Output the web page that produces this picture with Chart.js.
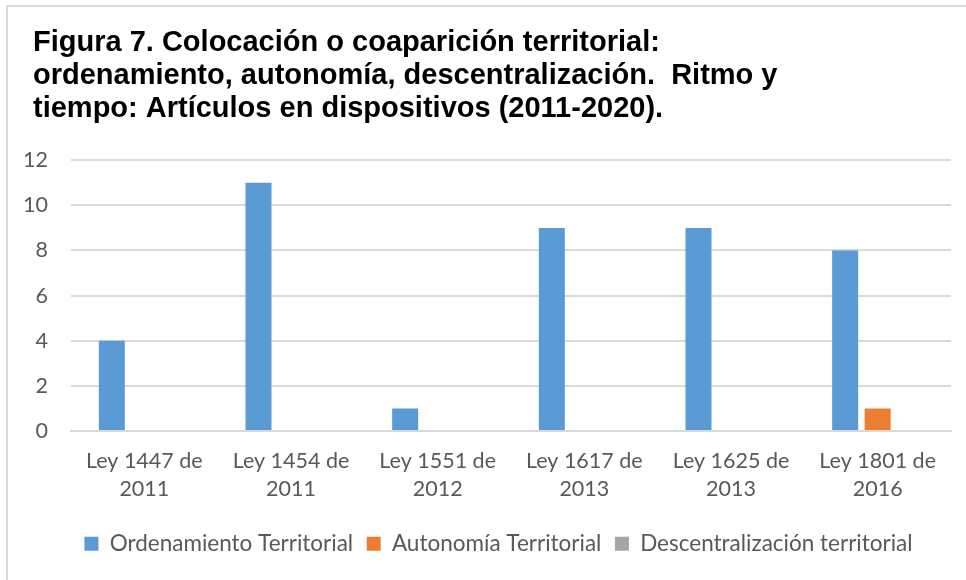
<!DOCTYPE html>
<html>
<head>
<meta charset="utf-8">
<script src="https://cdn.jsdelivr.net/npm/chart.js@4.4.1/dist/chart.umd.min.js"></script>
<style>
  html, body { margin: 0; padding: 0; background: #fff; }
  #wrap { position: relative; width: 966px; height: 580px; overflow: hidden; }
  #frame { position: absolute; left: 6px; top: 5px; width: 980px; height: 600px; border: 2px solid #d9d9d9; box-sizing: border-box; }
  #wrap canvas { position: absolute; left: 0; top: 0; }
</style>
</head>
<body>
<div id="wrap">
  <div id="frame"></div>
  <canvas id="barChart" width="966" height="580"></canvas>
</div>
<script>
const categories = [
    ['Ley 1447 de', '2011'],
    ['Ley 1454 de', '2011'],
    ['Ley 1551 de', '2012'],
    ['Ley 1617 de', '2013'],
    ['Ley 1625 de', '2013'],
    ['Ley 1801 de', '2016']
];
const ordenamiento = [4, 11, 1, 9, 9, 8];
const autonomia = [0, 0, 0, 0, 0, 1];
const descentralizacion = [0, 0, 0, 0, 0, 0];
const yTicks = [0, 2, 4, 6, 8, 10, 12];
const titleLines = [
    'Figura 7. Colocación o coaparición territorial:',
    'ordenamiento, autonomía, descentralización.  Ritmo y',
    'tiempo: Artículos en dispositivos (2011-2020).'
];

const textColor = '#595959';
const gridColor = '#d9d9d9';
const bodyFont = 'Lato, "Open Sans", sans-serif';

// title starts a bit right of the y tick labels, legend sits a bit right of centre
const boxShift = {
    id: 'boxShift',
    afterLayout(chart) {
        if (chart.titleBlock) {
            chart.titleBlock.left = 33;
        }
        if (chart.legend) {
            chart.legend.left += 14;
            chart.legend.right += 14;
        }
    }
};

const ctx = document.getElementById('barChart').getContext('2d');
new Chart(ctx, {
    type: 'bar',
    data: {
        labels: categories,
        datasets: [{
            label: 'Ordenamiento Territorial',
            data: ordenamiento,
            backgroundColor: '#5b9bd5'
        }, {
            label: 'Autonomía Territorial',
            data: autonomia,
            backgroundColor: '#ed7d31'
        }, {
            label: 'Descentralización territorial',
            data: descentralizacion,
            backgroundColor: '#a5a5a5'
        }]
    },
    options: {
        responsive: false,
        animation: false,
        categoryPercentage: 0.665,
        barPercentage: 0.8,
        layout: {
            padding: { left: 18, right: 15, top: 26, bottom: 15 }
        },
        plugins: {
            title: {
                display: true,
                text: titleLines,
                align: 'start',
                color: '#000',
                font: { family: '"Liberation Sans", Arial, sans-serif', size: 29, weight: 'bold', lineHeight: 1.14 },
                padding: { top: 0, bottom: 35 }
            },
            legend: {
                position: 'bottom',
                labels: {
                    color: textColor,
                    font: { family: bodyFont, size: 22.5 },
                    boxWidth: 14,
                    boxHeight: 14,
                    padding: 13.5
                }
            },
            tooltip: { enabled: false }
        },
        scales: {
            x: {
                grid: { display: false, drawTicks: false },
                border: { color: gridColor, width: 2 },
                ticks: {
                    color: textColor,
                    font: { family: bodyFont, size: 21.5, lineHeight: 1.3 },
                    padding: 16,
                    maxRotation: 0,
                    autoSkip: false
                }
            },
            y: {
                min: 0,
                max: 12,
                afterBuildTicks: function (axis) {
                    axis.ticks = yTicks.map(v => ({ value: v }));
                },
                afterFit: function (axis) {
                    axis.width = 53;
                },
                grid: { color: gridColor, lineWidth: 2, drawTicks: false },
                border: { display: false },
                ticks: {
                    color: textColor,
                    font: { family: bodyFont, size: 21.5 },
                    padding: 23
                }
            }
        }
    },
    plugins: [boxShift]
});
</script>
</body>
</html>
